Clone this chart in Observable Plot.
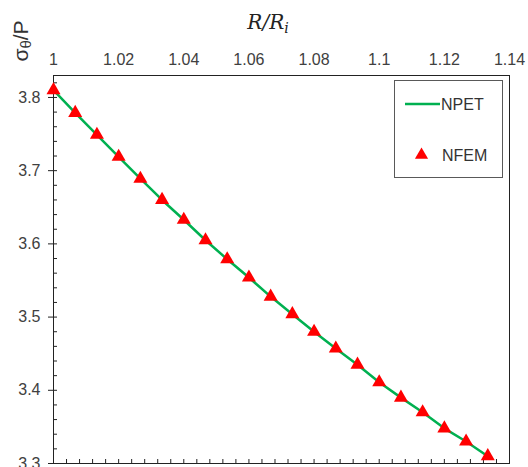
<!DOCTYPE html>
<html><head><meta charset="utf-8">
<script src="https://cdn.jsdelivr.net/npm/d3@7"></script>
<script src="https://cdn.jsdelivr.net/npm/@observablehq/plot@0.6"></script>
<style>
html,body{margin:0;padding:0;background:#fff;overflow:hidden;}
#chart svg{display:block;}
</style></head><body><div id="chart"></div>
<script>
// R/Ri positions of the samples
const rRatio = [1, 1.00667, 1.01333, 1.02, 1.02667, 1.03333, 1.04, 1.04667, 1.05333, 1.06, 1.06667,
                1.07333, 1.08, 1.08667, 1.09333, 1.1, 1.10667, 1.11333, 1.12, 1.12667, 1.13333];
// NPET (line) hoop stress ratio
const npet = [3.810, 3.779, 3.749, 3.719, 3.689, 3.660, 3.633, 3.605, 3.579, 3.554, 3.528,
              3.504, 3.480, 3.457, 3.435, 3.411, 3.390, 3.370, 3.348, 3.330, 3.310];
// NFEM (triangles)
const nfem = [3.810, 3.779, 3.749, 3.719, 3.689, 3.660, 3.633, 3.605, 3.579, 3.554, 3.528,
              3.504, 3.480, 3.457, 3.435, 3.411, 3.390, 3.370, 3.348, 3.330, 3.310];
// tick labels
const xTicks = [1, 1.02, 1.04, 1.06, 1.08, 1.1, 1.12, 1.14];
const xTickLabels = ["1", "1.02", "1.04", "1.06", "1.08", "1.1", "1.12", "1.14"];
const yTicks = [3.3, 3.4, 3.5, 3.6, 3.7, 3.8];
const yTickLabels = ["3.3", "3.4", "3.5", "3.6", "3.7", "3.8"];
const xMinor = d3.range(0, 36).map(i => +(1 + i * 0.004).toFixed(3));
const yMinor = d3.range(0, 27).map(i => +(3.3 + i * 0.02).toFixed(2));

const lineData = rRatio.map((r, i) => ({r, v: npet[i]}));
const dotData = rRatio.map((r, i) => ({r, v: nfem[i]}));

const chart = Plot.plot({
  width: 528, height: 490,
  marginLeft: 53, marginRight: 19, marginTop: 75, marginBottom: 27,
  style: {fontFamily: "'Liberation Sans', Arial, sans-serif", fontSize: "16px", color: "#404040", background: "#fff"},
  x: {domain: [1, 1.14]},
  y: {domain: [3.3, 3.83]},
  marks: [
    Plot.axisX({anchor: "top", ticks: xTicks, tickSize: 0, tickPadding: 11,
                tickFormat: d => xTickLabels[xTicks.indexOf(d)], label: null}),
    Plot.axisX({anchor: "bottom", ticks: xMinor, tickSize: -4, tickFormat: () => "", label: null, stroke: "#222"}),
    Plot.axisY({anchor: "left", ticks: yTicks, tickSize: 5, tickPadding: 8,
                tickFormat: d => yTickLabels[yTicks.indexOf(d)], label: null, stroke: "#222"}),
    Plot.axisY({anchor: "left", ticks: yMinor, tickSize: -4, tickFormat: () => "", label: null, stroke: "#222"}),
    Plot.frame({stroke: "#222"}),
    Plot.line(lineData, {x: "r", y: "v", stroke: "#00b050", strokeWidth: 2.5}),
    Plot.dot(dotData, {x: "r", y: "v", symbol: "triangle", r: 5.2, fill: "#ff0000", stroke: "none"})
  ]
});
document.getElementById("chart").appendChild(chart);

const svg = d3.select(chart);
// axis titles
const xt = svg.append("text").attr("x", 268).attr("y", 29).attr("text-anchor", "middle")
  .style("font-family", "'DejaVu Serif', serif").style("font-style", "italic").style("font-size", "20px").attr("fill", "#222");
xt.append("tspan").text("R/R");
xt.append("tspan").style("font-size", "14px").attr("dy", 4).text("i");

const yt = svg.append("text").attr("transform", "translate(28,41) rotate(-90)").attr("text-anchor", "middle")
  .style("font-family", "'Liberation Sans', Arial, sans-serif").style("font-size", "21px").attr("fill", "#333");
yt.append("tspan").text("σ");
yt.append("tspan").style("font-size", "15px").attr("dy", 3).text("θ");
yt.append("tspan").attr("dy", -3).text("/P");

// legend
const lg = svg.append("g").style("font-family", "'Liberation Sans', Arial, sans-serif").style("font-size", "16px")
  .attr("fill", "#333").attr("text-anchor", "start");
lg.append("rect").attr("x", 394.5).attr("y", 80.5).attr("width", 108).attr("height", 97)
  .attr("fill", "#fff").attr("stroke", "#595959");
lg.append("line").attr("x1", 405).attr("x2", 440).attr("y1", 104).attr("y2", 104)
  .attr("stroke", "#00b050").attr("stroke-width", 2.5);
lg.append("text").attr("x", 441).attr("y", 104).attr("dy", "0.36em").text("NPET");
lg.append("path").attr("d", d3.symbol(d3.symbolTriangle, 75)()).attr("transform", "translate(421.5,155)").attr("fill", "#ff0000");
lg.append("text").attr("x", 442).attr("y", 155).attr("dy", "0.36em").text("NFEM");
</script>
</body></html>
